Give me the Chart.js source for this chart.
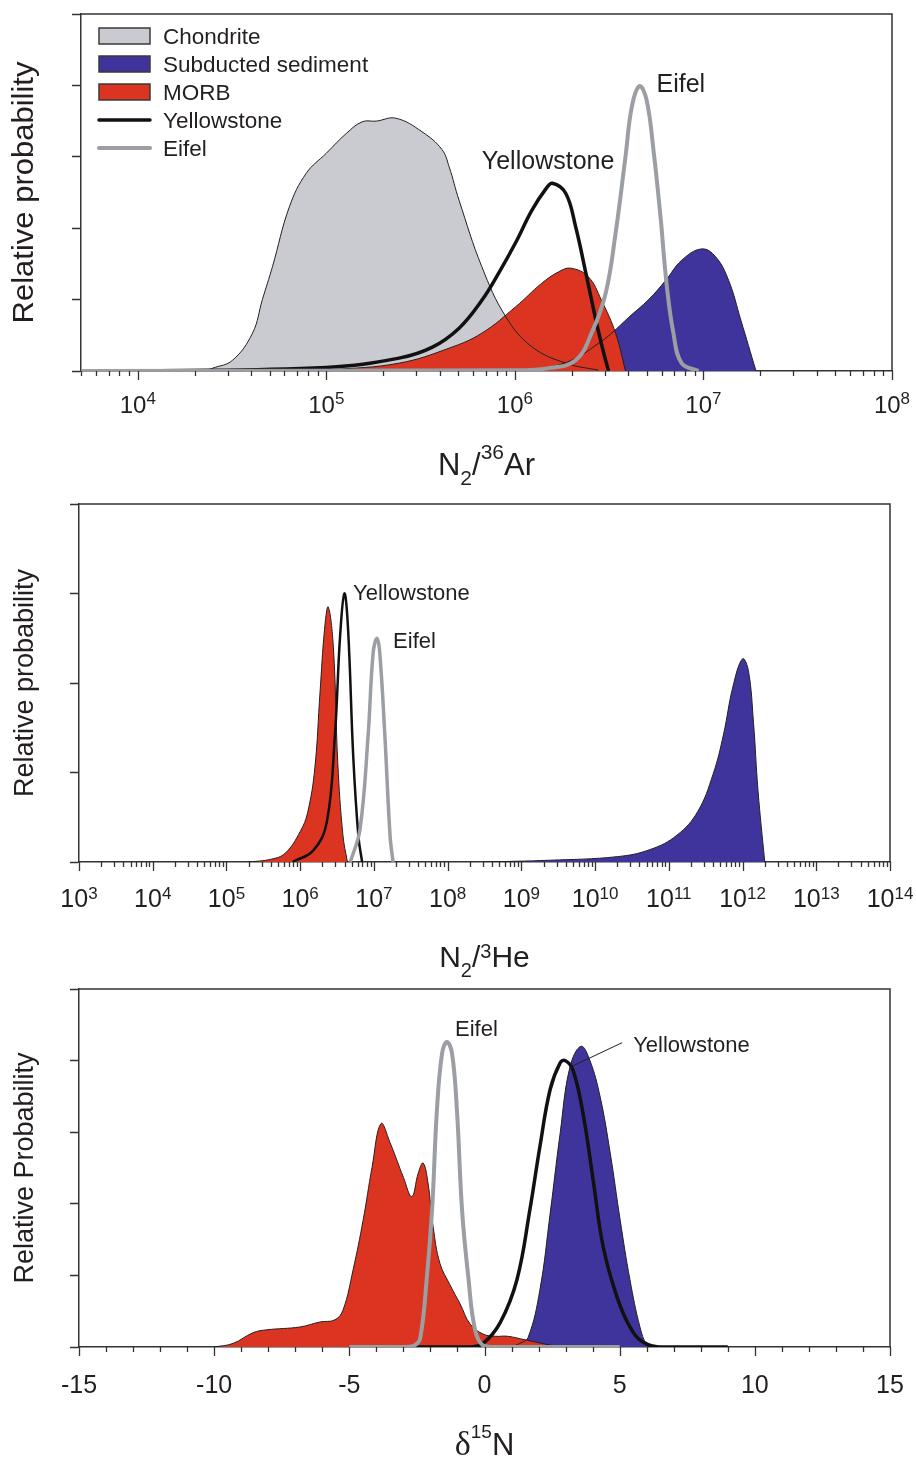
<!DOCTYPE html>
<html>
<head>
<meta charset="utf-8">
<script src="https://cdn.jsdelivr.net/npm/chart.js@4/dist/chart.umd.min.js"></script>
<style>
  body { margin: 0; background: #fff; width: 916px; height: 1459px; position: relative; overflow: hidden; }
  canvas { position: absolute; left: 0; display: block; }
</style>
</head>
<body>
<canvas id="c1" width="916" height="490" style="top:0"></canvas>
<canvas id="c2" width="916" height="490" style="top:490px"></canvas>
<canvas id="c3" width="916" height="479" style="top:980px"></canvas>
<script>
// ---- panel 1 : N2/36Ar
const arChondriteX = [2.26e4, 2.5e4, 3.18e4, 4.06e4, 4.58e4, 5.18e4, 6.37e4, 7.83e4, 1.0e5, 1.28e5, 1.55e5, 1.84e5, 2.34e5, 3.22e5, 4.11e5, 4.48e5, 5.06e5, 6.68e5, 8.95e5, 1.23e6, 1.86e6, 2.78e6];
const arChondriteY = [0, 0.04, 0.15, 0.53, 1.0, 1.46, 2.3, 2.77, 3.05, 3.33, 3.49, 3.5, 3.54, 3.35, 3.1, 2.86, 2.39, 1.46, 0.76, 0.34, 0.11, 0.01];
const arSedimentX = [1.26e6, 2.0e6, 2.82e6, 3.26e6, 4.01e6, 5.12e6, 6.31e6, 7.66e6, 9.77e6, 1.16e7, 1.36e7, 1.58e7, 1.9e7];
const arSedimentY = [0, 0.15, 0.4, 0.53, 0.75, 1.0, 1.27, 1.55, 1.71, 1.6, 1.27, 0.71, 0];
const arMorbX = [6.3e4, 1.07e5, 2.43e5, 4.48e5, 6.68e5, 1.01e6, 1.39e6, 1.71e6, 1.98e6, 2.45e6, 2.88e6, 3.42e6, 3.86e6];
const arMorbY = [0, 0.02, 0.11, 0.32, 0.53, 0.9, 1.23, 1.39, 1.44, 1.32, 0.99, 0.53, 0];
const arYellowX = [1e4, 1e5, 2.43e5, 3.63e5, 5.06e5, 6.68e5, 8.32e5, 1.01e6, 1.23e6, 1.46e6, 1.58e6, 1.86e6, 2.1e6, 2.38e6, 2.69e6, 2.96e6, 3.14e6];
const arYellowY = [0, 0.05, 0.18, 0.33, 0.6, 0.99, 1.4, 1.8, 2.25, 2.55, 2.63, 2.49, 2.02, 1.37, 0.71, 0.25, 0];
const arEifelX = [5e3, 1e6, 1.51e6, 2.1e6, 2.55e6, 3.03e6, 3.42e6, 3.86e6, 4.17e6, 4.58e6, 4.99e6, 5.43e6, 5.92e6, 6.37e6, 6.93e6, 7.66e6, 9.42e6];
const arEifelY = [0, 0.01, 0.04, 0.15, 0.53, 1.09, 1.93, 3.0, 3.7, 3.99, 3.8, 3.1, 2.16, 1.23, 0.53, 0.11, 0];
const arTickExp = [4, 5, 6, 7, 8];

// ---- panel 2 : N2/3He
const heSedimentX = [3.16e8, 2.45e9, 2e10, 5.6e10, 1.29e11, 2.45e11, 3.98e11, 5.5e11, 7.41e11, 1e12, 1.2e12, 1.41e12, 1.62e12, 2e12];
const heSedimentY = [0, 0.02, 0.06, 0.14, 0.3, 0.56, 0.98, 1.42, 1.96, 2.27, 2.14, 1.55, 0.8, 0];
const heMorbX = [2e5, 4e5, 6.3e5, 1e6, 1.26e6, 1.58e6, 1.86e6, 2.14e6, 2.4e6, 2.82e6, 3.24e6, 3.8e6, 4.37e6];
const heMorbY = [0, 0.03, 0.1, 0.34, 0.55, 1.05, 1.9, 2.6, 2.85, 2.4, 1.1, 0.3, 0];
const heYellowX = [7.9e5, 1.51e6, 2.29e6, 2.95e6, 3.47e6, 3.98e6, 4.47e6, 5.25e6, 6.17e6, 6.92e6];
const heYellowY = [0, 0.13, 0.44, 1.4, 2.51, 3.0, 2.59, 1.17, 0.28, 0];
const heEifelX = [4.79e6, 6.46e6, 8.32e6, 9.77e6, 1.1e7, 1.2e7, 1.41e7, 1.66e7, 1.82e7];
const heEifelY = [0, 0.36, 1.4, 2.34, 2.5, 2.34, 1.4, 0.28, 0];
const heTickExp = [3, 4, 5, 6, 7, 8, 9, 10, 11, 12, 13, 14];

// ---- panel 3 : d15N
const dSedimentX = [1.0, 1.3, 1.61, 2.05, 2.43, 2.8, 3.16, 3.57, 3.9, 4.28, 4.65, 5.02, 5.38, 5.75, 6.0, 6.2];
const dSedimentY = [0, 0.05, 0.13, 0.8, 1.87, 2.99, 3.91, 4.2, 4.0, 3.49, 2.71, 1.77, 0.94, 0.28, 0.03, 0];
const dMorbX = [-10.0, -9.3, -8.56, -8.05, -6.82, -6.08, -5.53, -5.23, -4.86, -4.49, -4.16, -3.83, -3.49, -3.0, -2.69, -2.45, -2.27, -2.09, -1.9, -1.65, -1.28, -0.9, -0.53, -0.05, 0.4, 0.85, 1.5, 2.4, 3.0];
const dMorbY = [0, 0.05, 0.2, 0.24, 0.28, 0.35, 0.38, 0.52, 1.08, 1.77, 2.51, 3.12, 2.85, 2.37, 2.1, 2.43, 2.57, 2.29, 1.68, 1.17, 0.87, 0.6, 0.32, 0.18, 0.15, 0.15, 0.1, 0.03, 0];
const dYellowX = [-3.0, -0.5, -0.05, 0.58, 1.2, 1.68, 2.05, 2.43, 2.8, 2.98, 3.27, 3.64, 4.02, 4.39, 4.9, 5.38, 5.86, 6.6, 9.0];
const dYellowY = [0, 0, 0.05, 0.34, 0.94, 1.92, 2.8, 3.6, 3.97, 4.0, 3.87, 3.27, 2.33, 1.4, 0.7, 0.28, 0.07, 0, 0];
const dEifelX = [-5.0, -3.0, -2.6, -2.38, -2.13, -1.94, -1.76, -1.57, -1.39, -1.2, -1.02, -0.83, -0.6, -0.35, -0.05, 0.5, 5.0];
const dEifelY = [0, 0, 0.02, 0.12, 0.98, 1.91, 3.31, 4.1, 4.26, 4.1, 3.31, 1.91, 0.98, 0.24, 0.02, 0, 0];
const dTicks = [-15, -10, -5, 0, 5, 10, 15];

const legendLabels = ['Chondrite', 'Subducted sediment', 'MORB', 'Yellowstone', 'Eifel'];

const FONT = '"Liberation Sans", Arial, Helvetica, sans-serif';
const INK = '#231f20';
const AXIS = '#333333';
const C_CHON = '#c9cbd1';
const C_SED = '#3f349b';
const C_MORB = '#db3522';
const C_EIFEL = '#9b9ea2';

function pts(xs, ys) {
  return xs.map((x, i) => ({ x: x, y: ys[i] }));
}

function area(xs, ys, color) {
  return { data: pts(xs, ys), fill: 'origin', backgroundColor: color, borderColor: INK, borderWidth: 1 };
}

function curve(xs, ys, color, w) {
  return { data: pts(xs, ys), fill: false, borderColor: color, borderWidth: w, borderJoinStyle: 'round' };
}

function logMinor(minE, maxE, lo, hi) {
  const out = [];
  for (let e = minE; e <= maxE; e++) {
    for (let m = 2; m <= 9; m++) {
      const v = m * Math.pow(10, e);
      if (v >= lo && v <= hi) out.push(v);
    }
  }
  return out;
}

// "10" with exponent, centered on x
function drawPow(ctx, exp, x, y, size, supSize, rise) {
  ctx.font = size + 'px ' + FONT;
  const wb = ctx.measureText('10').width;
  ctx.font = supSize + 'px ' + FONT;
  const we = ctx.measureText(String(exp)).width;
  const x0 = x - (wb + we) / 2;
  ctx.textAlign = 'left';
  ctx.font = size + 'px ' + FONT;
  ctx.fillText('10', x0, y);
  ctx.font = supSize + 'px ' + FONT;
  ctx.fillText(String(exp), x0 + wb, y - rise);
}

function drawParts(ctx, parts, cx, y) {
  let w = 0;
  parts.forEach(p => { ctx.font = p.font; w += ctx.measureText(p.t).width; });
  let x = cx - w / 2;
  ctx.textAlign = 'left';
  parts.forEach(p => {
    ctx.font = p.font;
    ctx.fillText(p.t, x, y + (p.dy || 0));
    x += ctx.measureText(p.t).width;
  });
}

// frame, x ticks, labels, titles, notes
function decor(o) {
  return {
    id: 'decor',
    afterDraw(chart) {
      const ctx = chart.ctx;
      const a = chart.chartArea;
      const sx = chart.scales.x;
      const sy = chart.scales.y;
      ctx.save();
      ctx.strokeStyle = AXIS;
      ctx.lineWidth = 1.5;
      ctx.beginPath();
      ctx.moveTo(a.left, a.top);
      ctx.lineTo(a.right, a.top);
      ctx.lineTo(a.right, a.bottom);
      ctx.stroke();

      ctx.lineWidth = 1.3;
      o.minor.forEach(v => {
        const px = Math.round(sx.getPixelForValue(v)) + 0.5;
        ctx.beginPath(); ctx.moveTo(px, a.bottom); ctx.lineTo(px, a.bottom + 5); ctx.stroke();
      });
      o.major.forEach(v => {
        const px = Math.round(sx.getPixelForValue(v)) + 0.5;
        ctx.beginPath(); ctx.moveTo(px, a.bottom); ctx.lineTo(px, a.bottom + 9); ctx.stroke();
      });

      ctx.fillStyle = INK;
      ctx.textBaseline = 'alphabetic';
      o.major.forEach((v, i) => o.tickLabel(ctx, o.labels[i], sx.getPixelForValue(v), a.bottom + o.labelDy));

      drawParts(ctx, o.xTitle, (a.left + a.right) / 2, a.bottom + o.titleDy);

      // y title
      ctx.save();
      ctx.translate(33, (a.top + a.bottom) / 2);
      ctx.rotate(-Math.PI / 2);
      ctx.scale(1, o.yTitle.stretch);
      ctx.font = o.yTitle.size + 'px ' + FONT;
      ctx.textAlign = 'center';
      ctx.fillText(o.yTitle.text, 0, 0);
      ctx.restore();

      (o.leaders || []).forEach(l => {
        ctx.strokeStyle = INK;
        ctx.lineWidth = 1;
        ctx.beginPath();
        ctx.moveTo(sx.getPixelForValue(l.x1), sy.getPixelForValue(l.y1));
        ctx.lineTo(sx.getPixelForValue(l.x2), sy.getPixelForValue(l.y2));
        ctx.stroke();
      });

      ctx.textAlign = 'left';
      o.notes.forEach(n => {
        ctx.font = n.size + 'px ' + FONT;
        ctx.fillText(n.text, sx.getPixelForValue(n.x), sy.getPixelForValue(n.y));
      });

      if (o.legend) {
        const styles = [
          { fill: C_CHON }, { fill: C_SED }, { fill: C_MORB },
          { line: '#111', w: 3.5 }, { line: C_EIFEL, w: 4 }
        ];
        legendLabels.forEach((lab, i) => {
          const cy = 36 + i * 28;
          const s = styles[i];
          if (s.fill) {
            ctx.fillStyle = s.fill;
            ctx.fillRect(99, cy - 8, 51, 16);
            ctx.strokeStyle = '#3a3a3a';
            ctx.lineWidth = 1.5;
            ctx.strokeRect(99, cy - 8, 51, 16);
          } else {
            ctx.strokeStyle = s.line;
            ctx.lineWidth = s.w;
            ctx.lineCap = 'round';
            ctx.beginPath(); ctx.moveTo(99, cy); ctx.lineTo(150, cy); ctx.stroke();
          }
          ctx.fillStyle = INK;
          ctx.font = '22.5px ' + FONT;
          ctx.fillText(lab, 163, cy + 8);
        });
      }
      ctx.restore();
    }
  };
}

function makePanel(id, o) {
  return new Chart(document.getElementById(id), {
    type: 'line',
    data: { datasets: o.datasets },
    options: {
      responsive: false,
      animation: false,
      events: [],
      layout: { padding: { top: o.top, right: o.right, left: 0, bottom: 0 } },
      plugins: {
        legend: { display: false },
        tooltip: { enabled: false },
        filler: { drawTime: 'beforeDatasetsDraw' }
      },
      elements: {
        point: { radius: 0 },
        line: { tension: 0.4 }
      },
      scales: {
        x: {
          type: o.xType, min: o.xMin, max: o.xMax,
          ticks: { display: false },
          grid: { display: false },
          border: { display: true, color: AXIS, width: 1.5 },
          afterFit(s) { s.height = o.bottomH; }
        },
        y: {
          min: 0, max: o.yMax,
          ticks: { display: false, stepSize: 1 },
          grid: { drawOnChartArea: false, drawTicks: true, tickLength: 9, tickColor: AXIS, tickWidth: 1.5 },
          border: { display: true, color: AXIS, width: 1.5 },
          afterFit(s) { s.width = o.leftW; }
        }
      }
    },
    plugins: [decor(o)]
  });
}

const powLabel = (size, sup, rise) => (ctx, e, x, y) => drawPow(ctx, e, x, y, size, sup, rise);

makePanel('c1', {
  xType: 'logarithmic', xMin: 5e3, xMax: 1e8, yMax: 5,
  top: 14, right: 24, leftW: 81, bottomH: 119,
  datasets: [
    curve(arEifelX, arEifelY, C_EIFEL, 4),
    curve(arYellowX, arYellowY, '#111', 3.5),
    area(arMorbX, arMorbY, C_MORB),
    area(arChondriteX, arChondriteY, C_CHON),
    area(arSedimentX, arSedimentY, C_SED)
  ],
  major: arTickExp.map(e => Math.pow(10, e)),
  labels: arTickExp,
  minor: logMinor(3, 7, 5e3, 1e8),
  tickLabel: powLabel(24, 17, 9),
  labelDy: 42,
  xTitle: [
    { t: 'N', font: '31px ' + FONT },
    { t: '2', font: '21px ' + FONT, dy: 10 },
    { t: '/', font: '31px ' + FONT },
    { t: '36', font: '21px ' + FONT, dy: -16 },
    { t: 'Ar', font: '31px ' + FONT }
  ],
  titleDy: 104,
  yTitle: { text: 'Relative probability', size: 31, stretch: 0.95 },
  notes: [
    { text: 'Yellowstone', x: 6.68e5, y: 2.83, size: 25 },
    { text: 'Eifel', x: 5.64e6, y: 3.91, size: 25 }
  ],
  legend: true
});

makePanel('c2', {
  xType: 'logarithmic', xMin: 1e3, xMax: 1e14, yMax: 4,
  top: 14, right: 26, leftW: 79, bottomH: 118,
  datasets: [
    curve(heEifelX, heEifelY, C_EIFEL, 3.5),
    curve(heYellowX, heYellowY, '#111', 2.5),
    area(heMorbX, heMorbY, C_MORB),
    area(heSedimentX, heSedimentY, C_SED)
  ],
  major: heTickExp.map(e => Math.pow(10, e)),
  labels: heTickExp,
  minor: logMinor(3, 13, 1e3, 1e14),
  tickLabel: powLabel(25, 17, 8),
  labelDy: 45,
  xTitle: [
    { t: 'N', font: '30px ' + FONT },
    { t: '2', font: '20px ' + FONT, dy: 10 },
    { t: '/', font: '30px ' + FONT },
    { t: '3', font: '20px ' + FONT, dy: -9 },
    { t: 'He', font: '30px ' + FONT }
  ],
  titleDy: 105,
  yTitle: { text: 'Relative probability', size: 27, stretch: 1.04 },
  notes: [
    { text: 'Yellowstone', x: 5.22e6, y: 2.93, size: 22 },
    { text: 'Eifel', x: 1.82e7, y: 2.39, size: 22 }
  ]
});

const dMinor = [];
for (let v = -15; v <= 15; v++) if (!dTicks.includes(v)) dMinor.push(v);

makePanel('c3', {
  xType: 'linear', xMin: -15, xMax: 15, yMax: 5,
  top: 9, right: 26, leftW: 79, bottomH: 112,
  datasets: [
    curve(dEifelX, dEifelY, C_EIFEL, 4),
    curve(dYellowX, dYellowY, '#111', 3.5),
    area(dMorbX, dMorbY, C_MORB),
    area(dSedimentX, dSedimentY, C_SED)
  ],
  major: dTicks,
  labels: dTicks,
  minor: dMinor,
  tickLabel: (ctx, v, x, y) => {
    ctx.font = '25px ' + FONT;
    ctx.textAlign = 'center';
    ctx.fillText(String(v), x, y);
  },
  labelDy: 46,
  xTitle: [
    { t: 'δ', font: '34px "Liberation Serif", "Times New Roman", serif' },
    { t: '15', font: '19px ' + FONT, dy: -17 },
    { t: 'N', font: '31px ' + FONT }
  ],
  titleDy: 108,
  yTitle: { text: 'Relative Probability', size: 27, stretch: 1.04 },
  notes: [
    { text: 'Eifel', x: -1.09, y: 4.34, size: 22 },
    { text: 'Yellowstone', x: 5.5, y: 4.12, size: 22 }
  ],
  leaders: [{ x1: 5.09, y1: 4.25, x2: 3.24, y2: 3.92 }]
});
</script>
</body>
</html>
